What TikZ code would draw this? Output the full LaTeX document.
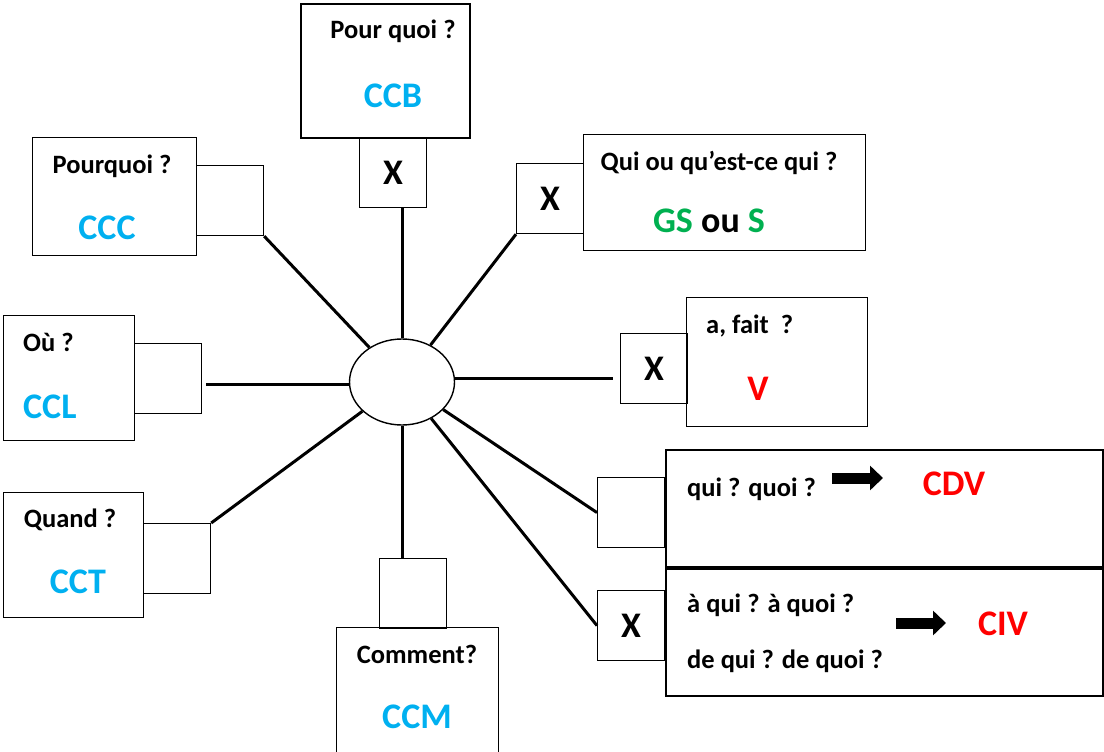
\documentclass[tikz,border=0pt]{standalone}
\usepackage{fontspec}
\setmainfont{Carlito}
\usetikzlibrary{arrows.meta,shapes.geometric}
\definecolor{cbleu}{RGB}{0,176,240}
\definecolor{cvert}{RGB}{0,176,80}
\definecolor{crouge}{RGB}{255,0,0}
\tikzset{
  cadre/.style={draw, line width=1.4pt, anchor=north west, inner sep=0pt},
  caseX/.style={draw, line width=1.2pt, anchor=north west, inner sep=0pt,
    minimum width=67pt, minimum height=70pt, font=\fontsize{36}{40}\selectfont\bfseries},
  quest/.style={font=\fontsize{26.5}{30}\selectfont\bfseries, inner sep=0pt, anchor=base},
  fonction/.style={font=\fontsize{36}{40}\selectfont\bfseries, inner sep=0pt, anchor=base},
  branche/.style={line width=3pt},
  fleche/.style={line width=11pt, -{Triangle[length=13pt,width=24pt]}},
}
\begin{document}
\begin{tikzpicture}[x=1pt,y=-1pt]
  \useasboundingbox (0,0) rectangle (1104,752);
  \clip (0,0) rectangle (1104,752);
  % centre
  \node[draw, ellipse, line width=1.4pt, minimum width=105pt, minimum height=86pt] (hub) at (402,382) {};
  % pour quoi
  \node[cadre, line width=2pt, minimum width=169pt, minimum height=134pt] (ccb) at (300,3) {};
  \node[caseX] (xccb) at (359,137) {X};
  \node[quest] (qccb) at (393,39) {Pour quoi ?};
  \node[fonction, cbleu] (lccb) at (393,107) {CCB};
  % sujet
  \node[cadre, minimum width=282pt, minimum height=116pt] (gs) at (583,134) {};
  \node[caseX] (xgs) at (516,163) {X};
  \node[quest] (qgs) at (719,170) {Qui ou qu’est-ce qui ?};
  \node[fonction] (lgs) at (709,232) {{\color{cvert}GS} ou {\color{cvert}S}};
  % verbe
  \node[cadre, minimum width=181pt, minimum height=129pt] (v) at (686,297) {};
  \node[caseX] (xv) at (620,333) {X};
  \node[quest, anchor=base west] (qv) at (706,333) {a, fait\hspace{12pt}?};
  \node[fonction, crouge] (lv) at (758,400) {V};
  % complements du verbe
  \node[cadre, line width=2.4pt, minimum width=437pt, minimum height=246pt] (cv) at (665,449) {};
  \coordinate (sep) at (0,568);
  \draw[line width=3.5pt] (cv.west |- sep) -- (cv.east |- sep);
  \node[caseX] (xcdv) at (597,477) {};
  \node[caseX] (xciv) at (597,590) {X};
  \node[quest, anchor=base west] (qcdv) at (687,496) {qui ? quoi ?};
  \node[quest, anchor=base west] (qciv1) at (687,612) {à qui ? à quoi ?};
  \node[quest, anchor=base west] (qciv2) at (687,668) {de qui ? de quoi ?};
  \node[fonction, crouge] (lcdv) at (954,495) {CDV};
  \node[fonction, crouge] (lciv) at (1003,635) {CIV};
  \coordinate (f1a) at (832,478);
  \coordinate (f1b) at (883,478);
  \coordinate (f2a) at (896,623);
  \coordinate (f2b) at (946,623);
  \draw[fleche] (f1a) -- (f1b);
  \draw[fleche] (f2a) -- (f2b);
  % maniere
  \node[cadre, minimum width=162pt, minimum height=170pt] (ccm) at (336,627) {};
  \node[caseX] (xccm) at (379,558) {};
  \node[quest] (qccm) at (417,663) {Comment?};
  \node[fonction, cbleu] (lccm) at (417,728) {CCM};
  % cause
  \node[cadre, minimum width=164pt, minimum height=118pt] (ccc) at (32,137) {};
  \node[caseX] (xccc) at (196,165) {};
  \node[quest] (qccc) at (112,173) {Pourquoi ?};
  \node[fonction, cbleu] (lccc) at (107,239) {CCC};
  % lieu
  \node[cadre, minimum width=131pt, minimum height=125pt] (ccl) at (3,315) {};
  \node[caseX] (xccl) at (134,343) {};
  \node[quest, anchor=base west] (qccl) at (23,351) {Où ?};
  \node[fonction, cbleu, anchor=base west] (lccl) at (23,418) {CCL};
  % temps
  \node[cadre, minimum width=140pt, minimum height=125pt] (cct) at (3,492) {};
  \node[caseX] (xcct) at (143,523) {};
  \node[quest] (qcct) at (70,527) {Quand ?};
  \node[fonction, cbleu] (lcct) at (78,593) {CCT};
  % branches
  \coordinate (vfin) at (613,378);
  \coordinate (lfin) at (206,384);
  \draw[branche] (hub.north) -- (hub.north |- xccb.south);
  \draw[branche] (hub) -- (xgs.south west);
  \draw[branche] (hub.east |- vfin) -- (vfin);
  \draw[branche] (hub) -- (xcdv.west);
  \draw[branche] (hub) -- (xciv.west);
  \draw[branche] (hub.south) -- (hub.south |- xccm.north);
  \draw[branche] (hub) -- (xcct.north east);
  \draw[branche] (hub.west |- lfin) -- (lfin);
  \draw[branche] (hub) -- (xccc.south east);
\end{tikzpicture}
\end{document}
